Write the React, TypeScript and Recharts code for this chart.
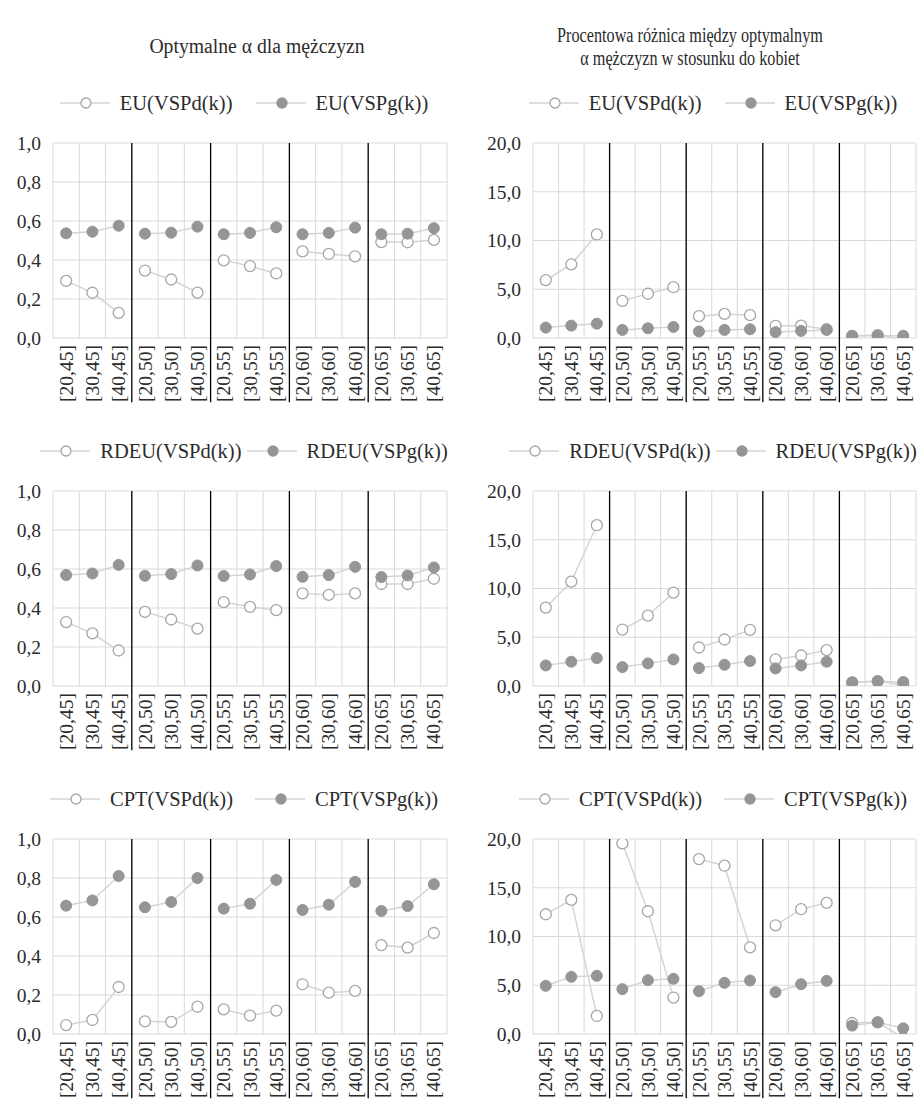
import { LineChart, Line, XAxis, YAxis, CartesianGrid, ReferenceLine } from 'recharts';

const categories = [
  '[20,45]', '[30,45]', '[40,45]',
  '[20,50]', '[30,50]', '[40,50]',
  '[20,55]', '[30,55]', '[40,55]',
  '[20,60]', '[30,60]', '[40,60]',
  '[20,65]', '[30,65]', '[40,65]',
];

// optymalne alfa dla mężczyzn
const euMenD = [0.293, 0.232, 0.129, 0.346, 0.3, 0.233, 0.398, 0.369, 0.331, 0.444, 0.431, 0.419, 0.492, 0.491, 0.503];
const euMenG = [0.537, 0.545, 0.576, 0.535, 0.54, 0.571, 0.532, 0.539, 0.568, 0.532, 0.539, 0.566, 0.532, 0.535, 0.563];
const rdeuMenD = [0.328, 0.27, 0.182, 0.38, 0.341, 0.294, 0.43, 0.406, 0.389, 0.475, 0.467, 0.475, 0.523, 0.523, 0.55];
const rdeuMenG = [0.569, 0.577, 0.621, 0.565, 0.574, 0.618, 0.564, 0.572, 0.615, 0.56, 0.569, 0.611, 0.559, 0.567, 0.608];
const cptMenD = [0.046, 0.072, 0.241, 0.065, 0.062, 0.14, 0.126, 0.094, 0.12, 0.255, 0.212, 0.221, 0.456, 0.443, 0.518];
const cptMenG = [0.658, 0.685, 0.81, 0.65, 0.677, 0.8, 0.643, 0.668, 0.79, 0.636, 0.663, 0.78, 0.631, 0.656, 0.768];

// różnica procentowa
const euDiffD = [5.94, 7.55, 10.62, 3.81, 4.54, 5.21, 2.24, 2.47, 2.34, 1.24, 1.27, 0.9, 0.2, 0.3, -0.1];
const euDiffG = [1.07, 1.27, 1.47, 0.83, 1.0, 1.14, 0.67, 0.83, 0.9, 0.6, 0.73, 0.83, 0.23, 0.23, 0.23];
const rdeuDiffD = [8.04, 10.7, 16.49, 5.79, 7.22, 9.57, 3.95, 4.77, 5.76, 2.73, 3.13, 3.68, 0.37, 0.51, 0.07];
const rdeuDiffG = [2.11, 2.49, 2.86, 1.94, 2.32, 2.73, 1.84, 2.18, 2.56, 1.8, 2.11, 2.49, 0.37, 0.48, 0.41];
const cptDiffD = [12.28, 13.76, 1.85, 19.55, 12.59, 3.74, 17.94, 17.26, 8.89, 11.15, 12.8, 13.45, 1.13, 1.2, -0.4];
const cptDiffG = [4.94, 5.87, 5.97, 4.6, 5.52, 5.66, 4.39, 5.25, 5.49, 4.29, 5.11, 5.45, 0.86, 1.2, 0.58];

const menTicks = [0, 0.2, 0.4, 0.6, 0.8, 1.0];
const diffTicks = [0, 5, 10, 15, 20];

const GROUP_SIZE = 3;
const GROUPS = 5;

const FONT = '"Liberation Serif", "Times New Roman", serif';
const TEXT = '#2b2b2b';
const GRID = '#d9d9d9';
const LINE = '#d4d4d4';
const HOLLOW = '#a6a6a6';
const FILLED = '#959595';

const buildRows = (d: number[], g: number[]) =>
  categories.map((label, i) => {
    const grp = Math.floor(i / GROUP_SIZE);
    const row: any = { x: i + 0.5, label };
    row['d' + grp] = d[i];
    row['g' + grp] = g[i];
    return row;
  });

const fmt = (v: number) => v.toFixed(1).replace('.', ',');

const LegendIcon = ({ filled }: { filled: boolean }) => (
  <svg width={50} height={12} style={{ display: 'block' }}>
    <line x1={0} y1={6} x2={50} y2={6} stroke={LINE} strokeWidth={1.5} />
    <circle cx={26} cy={6} r={5} fill={filled ? FILLED : '#fff'} stroke={filled ? FILLED : HOLLOW} strokeWidth={1.3} />
  </svg>
);

const XTick = (props: any) => {
  const { x, y, payload } = props;
  return (
    <text
      x={x}
      y={y - 1}
      transform={`rotate(-90 ${x} ${y - 1})`}
      textAnchor='end'
      dy='0.34em'
      fontFamily={FONT}
      fontSize={19.5}
      fill={TEXT}
    >
      {categories[Math.floor(payload.value)]}
    </text>
  );
};

// grid lines sit on category boundaries (0..15), like Excel's "between tick marks"
const bounds = Array.from({ length: categories.length + 1 }, (_, i) => i);
const gridX = ({ xAxis, offset }: any) => {
  const sc = xAxis && xAxis.scale;
  if (typeof sc === 'function') return bounds.map((b) => sc(b));
  if (sc && typeof sc.map === 'function') return bounds.map((b) => sc.map(b));
  return bounds.map((b) => offset.left + (b / categories.length) * offset.width);
};

type PanelProps = {
  prefix: string;
  d: number[];
  g: number[];
  ticks: number[];
  right: boolean;
  gap: number;
};

function Panel({ prefix, d, g, ticks, right, gap }: PanelProps) {
  const data = buildRows(d, g);
  const top = ticks[ticks.length - 1];
  const low = -top * 0.33;
  const seps = [3, 6, 9, 12];
  const legendCenter = right ? 253 : 244;

  return (
    <div style={{ position: 'relative', width: 460, height: 348 }}>
      <div
        style={{
          position: 'absolute',
          top: 6,
          left: 0,
          width: legendCenter * 2,
          display: 'flex',
          justifyContent: 'center',
          gap,
          fontFamily: FONT,
          fontSize: 20.5,
          lineHeight: '24px',
          color: TEXT,
          whiteSpace: 'nowrap',
        }}
      >
        {[false, true].map((filled) => (
          <div key={String(filled)} style={{ display: 'flex', alignItems: 'center' }}>
            <LegendIcon filled={filled} />
            <span style={{ marginLeft: 10 }}>{`${prefix}(VSP${filled ? 'g' : 'd'}(k))`}</span>
          </div>
        ))}
      </div>
      <LineChart
        width={460}
        height={348}
        data={data}
        margin={{ top: 58, right: right ? 4 : 13, bottom: 15, left: right ? 10 : 8 }}
      >
        <CartesianGrid stroke={GRID} strokeWidth={1} verticalCoordinatesGenerator={gridX} />
        <XAxis
          dataKey='x'
          type='number'
          domain={[0, categories.length]}
          ticks={categories.map((_, i) => i + 0.5)}
          interval={0}
          tick={(p: any) => <XTick {...p} />}
          tickLine={false}
          axisLine={false}
          height={80}
        />
        <YAxis
          type='number'
          domain={[0, top]}
          ticks={ticks}
          allowDataOverflow
          tickFormatter={fmt}
          tick={{ fontFamily: FONT, fontSize: 19.5, fill: TEXT }}
          tickLine={false}
          axisLine={false}
          tickMargin={6}
          width={right ? 63 : 45}
        />
        {seps.map((b) => (
          <ReferenceLine
            key={'s' + b}
            segment={[{ x: b, y: top }, { x: b, y: low }]}
            stroke='#000'
            strokeWidth={1.3}
            ifOverflow='visible'
          />
        ))}
        {Array.from({ length: GROUPS }, (_, grp) => (
          <Line
            key={'d' + grp}
            dataKey={'d' + grp}
            stroke={LINE}
            strokeWidth={1.5}
            dot={{ r: 5.5, fill: '#fff', stroke: HOLLOW, strokeWidth: 1.3 }}
            activeDot={false}
            legendType='none'
            isAnimationActive={false}
          />
        ))}
        {Array.from({ length: GROUPS }, (_, grp) => (
          <Line
            key={'g' + grp}
            dataKey={'g' + grp}
            stroke={LINE}
            strokeWidth={1.5}
            dot={{ r: 5.5, fill: FILLED, stroke: FILLED, strokeWidth: 1 }}
            activeDot={false}
            legendType='none'
            isAnimationActive={false}
          />
        ))}
      </LineChart>
    </div>
  );
}

const panels: PanelProps[] = [
  { prefix: 'EU', d: euMenD, g: euMenG, ticks: menTicks, right: false, gap: 23 },
  { prefix: 'EU', d: euDiffD, g: euDiffG, ticks: diffTicks, right: true, gap: 23 },
  { prefix: 'RDEU', d: rdeuMenD, g: rdeuMenG, ticks: menTicks, right: false, gap: 5 },
  { prefix: 'RDEU', d: rdeuDiffD, g: rdeuDiffG, ticks: diffTicks, right: true, gap: 5 },
  { prefix: 'CPT', d: cptMenD, g: cptMenG, ticks: menTicks, right: false, gap: 22 },
  { prefix: 'CPT', d: cptDiffD, g: cptDiffG, ticks: diffTicks, right: true, gap: 22 },
];

export default function App() {
  const titleStyle: any = {
    position: 'absolute',
    width: 440,
    textAlign: 'center',
    fontFamily: FONT,
    fontSize: 20.5,
    lineHeight: '23px',
    color: TEXT,
  };
  return (
    <div
      style={{
        position: 'absolute',
        left: 0,
        top: 0,
        width: 920,
        height: 1099,
        overflow: 'hidden',
        background: '#fff',
      }}
    >
      <div style={{ ...titleStyle, left: 257 - 220, top: 35, transform: 'scaleX(0.96)' }}>
        Optymalne α dla mężczyzn
      </div>
      <div style={{ ...titleStyle, left: 690 - 220, top: 24, transform: 'scaleX(0.79)' }}>
        Procentowa różnica między optymalnym
        <br />α mężczyzn w stosunku do kobiet
      </div>
      {panels.map((p, i) => (
        <div
          key={i}
          style={{ position: 'absolute', left: p.right ? 460 : 0, top: 85 + 348 * Math.floor(i / 2) }}
        >
          <Panel {...p} />
        </div>
      ))}
    </div>
  );
}
